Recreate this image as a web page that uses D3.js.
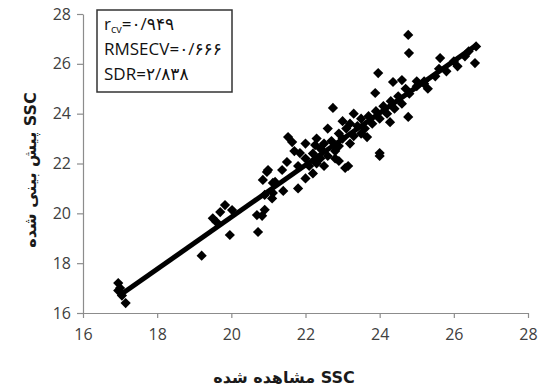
<!DOCTYPE html>
<html>
<head>
<meta charset="utf-8">
<script src="https://cdn.jsdelivr.net/npm/d3@7"></script>
<style>
  body { margin: 0; background: #fff; }
  svg { display: block; }
</style>
</head>
<body>
<svg id="chart" width="542" height="392"></svg>
<script>
// observed SSC (x) and predicted SSC (y)
const observed = [
  16.95, 16.95, 17.05, 17.15, 17.0,
  19.2,
  19.5, 19.6, 19.7, 19.83, 20.02, 19.96,
  20.69, 20.83, 20.72, 20.9, 20.9, 21.1,
  20.96, 21.18, 21.12, 20.85, 20.99, 21.37, 21.12, 21.5, 21.85, 21.53, 21.64, 22.26,
  21.8, 22.0, 22.1, 22.2, 22.3, 22.4, 22.4, 22.5, 22.6, 22.7, 22.8, 22.9, 22.9, 23.0,
  23.1, 23.2, 23.2, 23.3, 23.4, 23.5, 23.5, 23.6, 23.7, 23.8, 23.9, 24.0, 24.1, 24.2,
  24.3, 24.4, 24.5, 24.6, 24.7, 24.8, 25.0, 25.2, 25.3, 25.5, 25.6, 25.8, 26.0, 26.1,
  26.3, 26.4, 26.6,
  22.0, 22.2, 22.5, 22.8, 23.07, 23.15, 22.9, 21.8, 21.4,
  21.7, 22.0, 22.3, 22.6, 23.0, 23.3, 22.74,
  23.88, 23.96, 24.36, 24.6, 24.28, 24.77, 23.66, 24.0, 24.0,
  24.77, 24.79, 26.57, 25.63, 25.0, 25.2
];
const predicted = [
  17.2, 16.9, 16.7, 16.4, 17.0,
  18.3,
  19.8, 19.65, 20.05, 20.33, 20.13, 19.13,
  19.93, 19.9, 19.25, 20.14, 20.74, 20.6,
  21.66, 21.26, 20.82, 21.34, 21.74, 21.74, 21.22, 22.06, 22.42, 23.06, 22.86, 22.74,
  21.9, 22.2, 21.9, 22.4, 22.0, 22.6, 22.2, 22.8, 22.3, 22.9, 22.5, 23.2, 22.7, 23.0,
  23.4, 22.8, 23.6, 23.1, 23.5, 23.2, 23.8, 23.4, 23.9, 23.6, 24.1, 23.8, 24.3, 24.0,
  24.5, 24.2, 24.7, 24.4, 25.0, 24.8, 25.1, 25.3, 25.0, 25.5, 25.8, 25.7, 26.1, 25.9,
  26.3, 26.5, 26.7,
  21.4, 21.6, 21.9, 22.2, 21.82, 21.9, 22.1, 21.0, 20.9,
  22.5, 22.8, 23.0, 23.4, 23.7, 24.0, 24.23,
  24.83, 25.63, 25.27, 25.35, 23.66, 23.87, 23.06, 22.42, 22.3,
  27.16, 26.43, 26.03, 26.23, 25.3, 25.2
];
const fitX = [17.08, 26.62];
const fitY = [16.8, 26.76];
const ticks = [16, 18, 20, 22, 24, 26, 28];
const statLines = [
  { name: 'r', sub: 'cv', value: '=۰/۹۴۹' },
  { name: 'RMSECV', sub: '', value: '=۰/۶۶۶' },
  { name: 'SDR', sub: '', value: '=۲/۸۳۸' }
];

const svg = d3.select('#chart');
const margin = { top: 14, right: 14, bottom: 79, left: 83 };
const width = 542 - margin.left - margin.right;
const height = 392 - margin.top - margin.bottom;

const x = d3.scaleLinear().domain([16, 28]).range([0, width]);
const y = d3.scaleLinear().domain([16, 28]).range([height, 0]);

const g = svg.append('g')
  .attr('transform', `translate(${margin.left},${margin.top})`);

// axes
const xAxis = g.append('g')
  .attr('transform', `translate(0,${height})`)
  .call(d3.axisBottom(x).tickValues(ticks).tickSize(5).tickSizeOuter(0).tickPadding(11));
const yAxis = g.append('g')
  .call(d3.axisLeft(y).tickValues(ticks).tickSize(6).tickSizeOuter(0).tickPadding(6));

[xAxis, yAxis].forEach(a => {
  a.select('.domain').attr('stroke', '#8c8c8c').attr('stroke-width', 1.2);
  a.selectAll('.tick line').attr('stroke', '#8c8c8c').attr('stroke-width', 1.2);
  a.selectAll('.tick text')
    .attr('fill', '#404040')
    .attr('font-family', 'Open Sans, Liberation Sans, sans-serif')
    .attr('font-size', '16px');
});

// points
const pts = observed.map((v, i) => ({ x: v, y: predicted[i] }));
g.selectAll('.pt')
  .data(pts)
  .join('path')
  .attr('class', 'pt')
  .attr('d', d3.symbol(d3.symbolSquare, 52))
  .attr('transform', d => `translate(${x(d.x)},${y(d.y)}) rotate(45)`)
  .attr('fill', '#000');

// regression line
g.append('line')
  .attr('x1', x(fitX[0]))
  .attr('y1', y(fitY[0]))
  .attr('x2', x(fitX[1]))
  .attr('y2', y(fitY[1]))
  .attr('stroke', '#000')
  .attr('stroke-width', 5);

// stats box
svg.append('rect')
  .attr('x', 97).attr('y', 10)
  .attr('width', 135).attr('height', 82)
  .attr('fill', '#fff')
  .attr('stroke', '#333')
  .attr('stroke-width', 1.5);

const st = svg.selectAll('.stat')
  .data(statLines)
  .join('text')
  .attr('class', 'stat')
  .attr('x', 104)
  .attr('y', (d, i) => 30 + i * 25)
  .attr('font-family', 'Open Sans, DejaVu Sans, sans-serif')
  .attr('font-size', '17px')
  .attr('fill', '#111');
st.append('tspan').text(d => d.name);
st.filter(d => d.sub).append('tspan')
  .attr('font-size', '11px')
  .attr('dy', 3)
  .text(d => d.sub);
st.append('tspan')
  .attr('dy', d => d.sub ? -3 : 0)
  .text(d => d.value);

// axis titles
svg.append('text')
  .attr('x', 284)
  .attr('y', 383)
  .attr('text-anchor', 'middle')
  .attr('font-family', 'DejaVu Sans, sans-serif')
  .attr('font-weight', 'bold')
  .attr('font-size', '16px')
  .attr('fill', '#1a1a1a')
  .text('مشاهده شده SSC');

svg.append('text')
  .attr('transform', 'translate(36,170) rotate(-90)')
  .attr('text-anchor', 'middle')
  .attr('font-family', 'DejaVu Sans, sans-serif')
  .attr('font-weight', 'bold')
  .attr('font-size', '16px')
  .attr('fill', '#1a1a1a')
  .text('پیش بینی شده SSC');
</script>
</body>
</html>
